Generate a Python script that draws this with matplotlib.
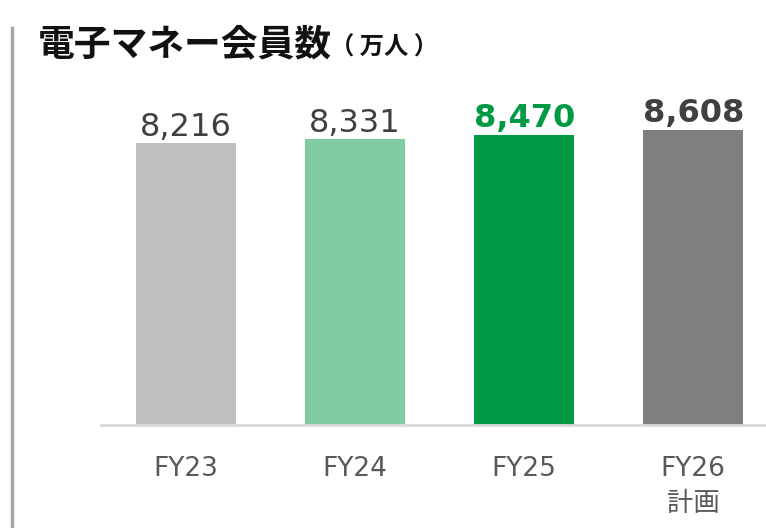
import matplotlib
matplotlib.use("Agg")
import matplotlib.pyplot as plt
from matplotlib.lines import Line2D

plt.rcParams['font.family'] = ['DejaVu Sans', 'Noto Sans CJK JP']

# data
categories = ['FY23', 'FY24', 'FY25', 'FY26\n計画']
members = [8216, 8331, 8470, 8608]
bar_colors = ['#BFBFBF', '#80CCA0', '#009A44', '#7F7F7F']
label_colors = ['#404040', '#404040', '#009A44', '#404040']
label_weights = ['normal', 'normal', 'bold', 'bold']

fig = plt.figure(figsize=(7.66, 5.28), dpi=100)
ax = fig.add_axes([101/766, 103/528, 665/766, 325/528])

x = range(len(categories))
ax.bar(x, members, width=0.59, color=bar_colors, zorder=2)

for i, v in enumerate(members):
    ax.text(i, v + 20, '{:,}'.format(v), ha='center', va='bottom',
            fontsize=23, color=label_colors[i], fontweight=label_weights[i])

ax.set_xlim(-0.503, 3.43)
ax.set_ylim(0, 9483)
ax.set_xticks(list(x))
ax.set_xticklabels(categories, fontsize=19, color='#595959', va='top', linespacing=1.45)
ax.tick_params(axis='x', length=0, pad=22)
ax.set_yticks([])
for s in ['top', 'right', 'left']:
    ax.spines[s].set_visible(False)
ax.spines['bottom'].set_color('#D9D9D9')
ax.spines['bottom'].set_linewidth(2)

# title
fig.text(38/766, 1 - 45/528, '電子マネー会員数', fontsize=26.5, fontweight='bold',
         family=['Noto Sans CJK JP'], color='#111111', ha='left', va='center')
fig.text(330/766, 1 - 48/528, '（ 万人 ）', fontsize=17.5, fontweight='bold',
         family=['Noto Sans CJK JP'], color='#111111', ha='left', va='center')

# left grey bar
fig.add_artist(Line2D([12/766, 12/766], [0, 1 - 28/528], transform=fig.transFigure,
                      color='#A6A6A6', linewidth=2.5))

fig.savefig('out.png', dpi=100)
